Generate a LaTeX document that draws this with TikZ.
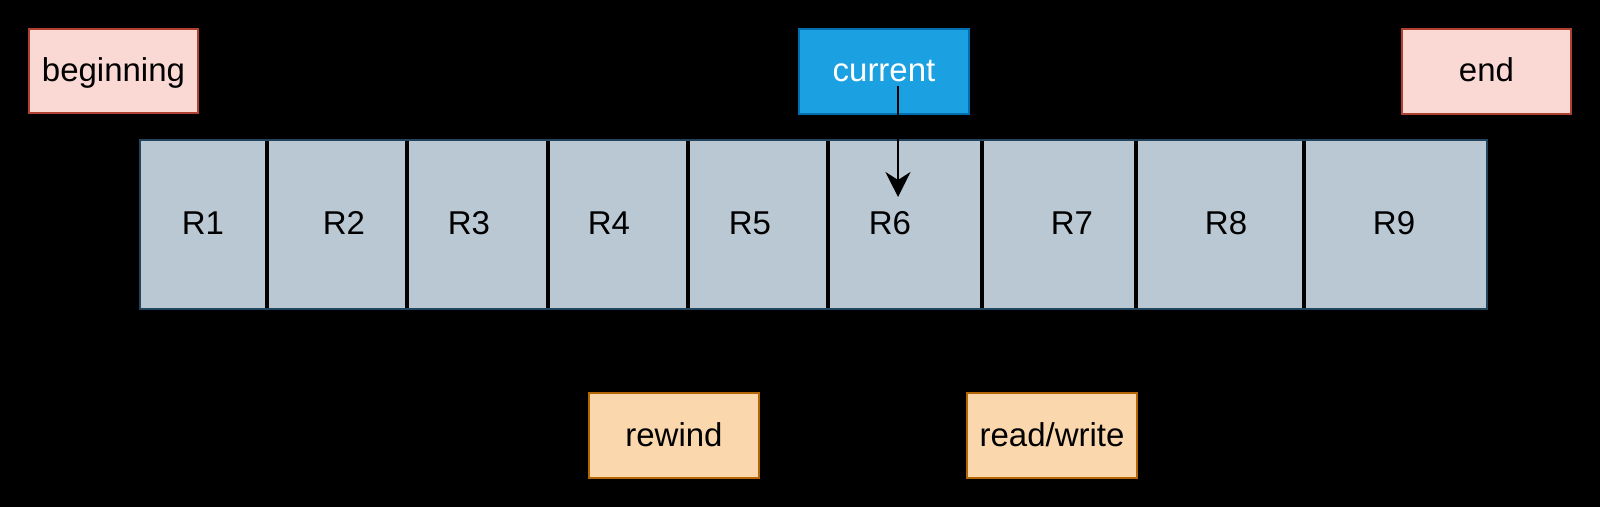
\documentclass[tikz,border=0pt]{standalone}
\usepackage{fontspec}
\setmainfont{Liberation Sans}
\usetikzlibrary{arrows.meta}
\definecolor{pinkfill}{HTML}{FAD9D5}
\definecolor{pinkline}{HTML}{AE4132}
\definecolor{bluefill}{HTML}{1BA1E2}
\definecolor{blueline}{HTML}{006EAF}
\definecolor{orfill}{HTML}{FAD7AC}
\definecolor{orline}{HTML}{B46504}
\definecolor{cellfill}{HTML}{BAC8D3}
\definecolor{cellline}{HTML}{23445D}
\tikzset{
  box/.style={rectangle, line width=1pt, inner sep=0pt, outer sep=0pt,
    minimum width=85pt, minimum height=42.5pt,
    font=\fontsize{16.5pt}{19pt}\selectfont, text height=12pt, text depth=1.5pt},
  pinkbox/.style={box, fill=pinkfill, draw=pinkline},
  bluebox/.style={box, fill=bluefill, draw=blueline, text=white},
  orbox/.style={box, fill=orfill, draw=orline},
  cell/.style={rectangle, fill=cellfill, draw=cellline, line width=1pt,
    inner sep=0pt, outer sep=0pt, minimum height=84.5pt},
  celltext/.style={font=\fontsize{16.5pt}{19pt}\selectfont, text height=12pt, text depth=1.5pt, inner sep=0pt},
  divider/.style={draw=black, line width=2.2pt},
  ptr/.style={draw=black, line width=1pt, -{Stealth[length=12.5pt,width=12.5pt,inset=4pt]}}
}
\begin{document}
\begin{tikzpicture}[x=0.5pt,y=-0.5pt]
\fill[black] (0,0) rectangle (1600,507);
\useasboundingbox (0,0) rectangle (1600,507);
% top boxes
\node[pinkbox, minimum width=84.5pt, minimum height=42pt] (beginning) at (113.5,71) {beginning};
\node[bluebox] (current) at (884,71.5) {current};
\node[pinkbox, minimum width=84.5pt] (end) at (1486.5,71.5) {end};
% cells
\foreach \n/\l/\r in {1/140/267,2/267/407,3/407/548,4/548/688,5/688/828,6/828/982,7/982/1136,8/1136/1304,9/1304/1487}{
  \node[cell, minimum width={(\r-\l)*0.5pt}] (c\n) at ({(\l+\r)/2},224.5) {};
}
\foreach \n in {1,...,8}{
  \draw[divider] ([yshift=-0.5pt]c\n.north east) -- ([yshift=0.5pt]c\n.south east);
}
\foreach \n/\x in {1/203,2/344,3/469,4/609,5/750,6/890,7/1072,8/1226,9/1394}{
  \node[celltext] (t\n) at (\x,224.5) {R\n};
}
% bottom boxes
\node[orbox] (rewind) at (674,435.5) {rewind};
\node[orbox] (readwrite) at (1052,435.5) {read/write};
% pointer
\coordinate (ptrA) at (898,86);
\coordinate (ptrB) at (898,197);
\draw[ptr] (ptrA) -- (ptrB);
\end{tikzpicture}
\end{document}
